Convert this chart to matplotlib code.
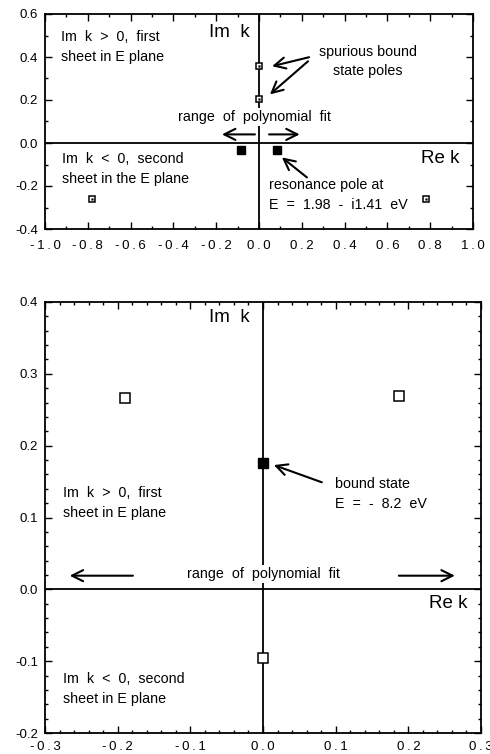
import matplotlib
matplotlib.use("Agg")
import matplotlib.pyplot as plt
from matplotlib.ticker import MultipleLocator, FuncFormatter

plt.rcParams['font.family'] = ['Liberation Sans', 'DejaVu Sans']
plt.rcParams['axes.unicode_minus'] = False

# ---- data: top panel ----
top_open_x = [0.0, 0.0, -0.78, 0.78]
top_open_y = [0.358, 0.205, -0.26, -0.26]
top_filled_x = [-0.085, 0.086]
top_filled_y = [-0.031, -0.031]
top_xlim = (-1.0, 1.0)
top_ylim = (-0.4, 0.6)

# ---- data: bottom panel ----
bot_open_x = [-0.19, 0.187, 0.0]
bot_open_y = [0.267, 0.269, -0.095]
bot_filled_x = [0.0]
bot_filled_y = [0.176]
bot_xlim = (-0.3, 0.3)
bot_ylim = (-0.2, 0.4)

fig = plt.figure(figsize=(4.9, 7.54), dpi=100)
ax1 = fig.add_axes([45/490, 1-229/754, 428/490, 215/754])
ax2 = fig.add_axes([45/490, 1-733/754, 436/490, 431/754])

def spaced(v, pos):
    s = '%.1f' % v
    if s == '-0.0':
        s = '0.0'
    return '\u2009'.join(s)

def style(ax, xmaj, xmin, ymaj, ymin, xpad):
    ax.xaxis.set_major_locator(MultipleLocator(xmaj))
    ax.xaxis.set_minor_locator(MultipleLocator(xmin))
    ax.yaxis.set_major_locator(MultipleLocator(ymaj))
    ax.yaxis.set_minor_locator(MultipleLocator(ymin))
    ax.xaxis.set_major_formatter(FuncFormatter(spaced))
    ax.yaxis.set_major_formatter(FuncFormatter(lambda v, p: ('%.1f' % v).replace('-0.0', '0.0')))
    ax.tick_params(which='both', direction='in', top=True, right=True,
                   labelsize=9.5, width=1.0)
    ax.tick_params(which='major', length=5)
    ax.tick_params(axis='x', which='major', pad=xpad)
    ax.tick_params(axis='y', which='major', pad=5)
    ax.tick_params(which='minor', length=2.5)
    for s in ax.spines.values():
        s.set_linewidth(1.3)
    ax.axhline(0, color='black', lw=1.3, zorder=1)
    ax.axvline(0, color='black', lw=1.3, zorder=1)

style(ax1, 0.2, 0.1, 0.2, 0.1, 8)
style(ax2, 0.1, 0.02, 0.1, 0.02, 5.5)
ax1.set_xlim(*top_xlim); ax1.set_ylim(*top_ylim)
ax2.set_xlim(*bot_xlim); ax2.set_ylim(*bot_ylim)

arrow = dict(arrowstyle='->,head_length=0.8,head_width=0.4', color='black', lw=1.5,
             shrinkA=0, shrinkB=0)
fs = 10.3
big = 13.5
ls = 1.5
wb = dict(facecolor='white', edgecolor='none', pad=1.5)

# ---- top panel marks ----
ax1.plot(top_open_x, top_open_y, 's', ms=4.5, mfc='white', mec='black', mew=1.1, zorder=3)
ax1.plot(top_open_x, top_open_y, 's', ms=1.2, mfc='black', mec='black', mew=0.3, zorder=4)
ax1.plot(top_filled_x, top_filled_y, 's', ms=5.5, mfc='black', mec='black', zorder=3)

ax1.text(-0.042, 0.515, 'Im  k', fontsize=big, ha='right', va='center')
ax1.text(-0.925, 0.447, 'Im  k  >  0,  first\nsheet in E plane', fontsize=fs,
         ha='left', va='center', linespacing=ls)
ax1.text(0.51, 0.38, 'spurious bound\nstate poles', fontsize=fs, ha='center',
         va='center', multialignment='center', linespacing=ls)
ax1.annotate('', xy=(0.061, 0.357), xytext=(0.234, 0.399), arrowprops=arrow)
ax1.annotate('', xy=(0.051, 0.226), xytext=(0.229, 0.380), arrowprops=arrow)
ax1.text(-0.019, 0.12, 'range  of  polynomial  fit', fontsize=fs, ha='center',
         va='center', bbox=wb, zorder=2)
ax1.annotate('', xy=(-0.173, 0.04), xytext=(-0.019, 0.04), arrowprops=arrow)
ax1.annotate('', xy=(0.19, 0.04), xytext=(0.047, 0.04), arrowprops=arrow)
ax1.text(-0.92, -0.12, 'Im  k  <  0,  second\nsheet in the E plane', fontsize=fs,
         ha='left', va='center', linespacing=ls)
ax1.text(0.939, -0.071, 'Re k', fontsize=big, ha='right', va='center')
ax1.annotate('', xy=(0.107, -0.067), xytext=(0.224, -0.16), arrowprops=arrow)
ax1.text(0.047, -0.243, 'resonance pole at\nE  =  1.98  -  i1.41  eV', fontsize=fs,
         ha='left', va='center', linespacing=ls)

# ---- bottom panel marks ----
ax2.plot(bot_open_x, bot_open_y, 's', ms=7, mfc='white', mec='black', mew=1.1, zorder=3)
ax2.plot(bot_filled_x, bot_filled_y, 's', ms=7.5, mfc='black', mec='black', zorder=3)

ax2.text(-0.018, 0.379, 'Im  k', fontsize=big, ha='right', va='center')
ax2.annotate('', xy=(0.015, 0.173), xytext=(0.081, 0.149), arrowprops=arrow)
ax2.text(0.099, 0.133, 'bound state\nE  =  -  8.2  eV', fontsize=fs, ha='left',
         va='center', linespacing=ls)
ax2.text(-0.275, 0.12, 'Im  k  >  0,  first\nsheet in E plane', fontsize=fs,
         ha='left', va='center', linespacing=ls)
ax2.text(0.0, 0.021, 'range  of  polynomial  fit', fontsize=fs, ha='center',
         va='center', bbox=wb, zorder=2)
ax2.annotate('', xy=(-0.266, 0.019), xytext=(-0.179, 0.019), arrowprops=arrow)
ax2.annotate('', xy=(0.264, 0.019), xytext=(0.187, 0.019), arrowprops=arrow)
ax2.text(0.281, -0.0195, 'Re k', fontsize=big, ha='right', va='center')
ax2.text(-0.275, -0.139, 'Im  k  <  0,  second\nsheet in E plane', fontsize=fs,
         ha='left', va='center', linespacing=ls)

fig.savefig('out.png', dpi=100)
